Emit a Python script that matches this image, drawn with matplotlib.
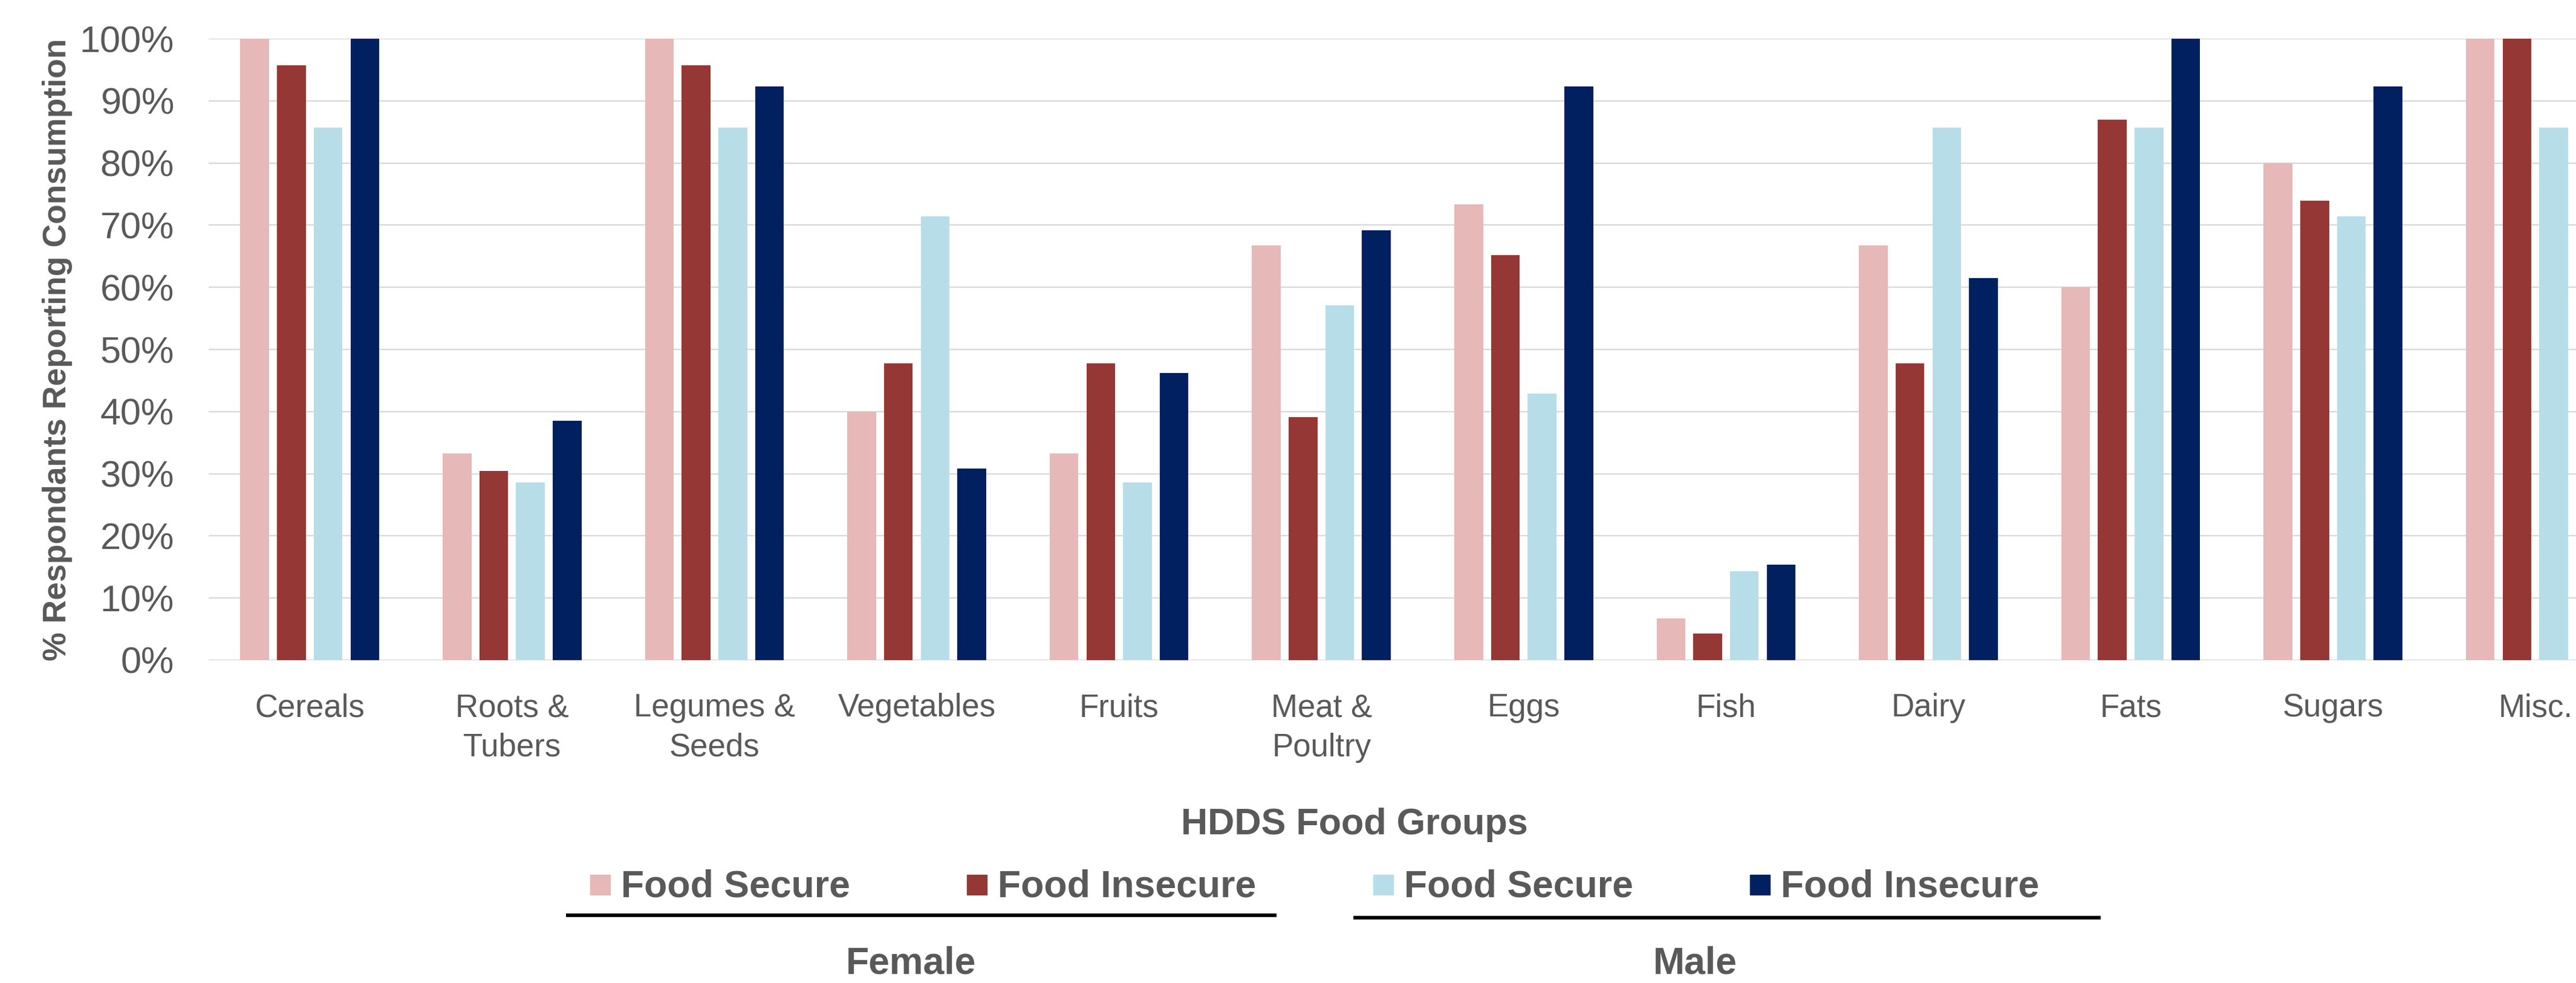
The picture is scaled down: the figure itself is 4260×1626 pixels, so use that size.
import numpy as np
import matplotlib
matplotlib.use('Agg')
import matplotlib.pyplot as plt
from matplotlib.patches import Rectangle
from matplotlib.lines import Line2D

# HDDS food groups and share of respondents (%) reporting consumption
food_groups = ['Cereals', 'Roots &\nTubers', 'Legumes &\nSeeds', 'Vegetables', 'Fruits',
               'Meat &\nPoultry', 'Eggs', 'Fish', 'Dairy', 'Fats', 'Sugars', 'Misc.']

female_secure = [100, 33.3, 100, 40.0, 33.3, 66.7, 73.3, 6.7, 66.7, 60.0, 80.0, 100]
female_insecure = [95.7, 30.4, 95.7, 47.8, 47.8, 39.1, 65.2, 4.3, 47.8, 87.0, 73.9, 100]
male_secure = [85.7, 28.6, 85.7, 71.4, 28.6, 57.1, 42.9, 14.3, 85.7, 85.7, 71.4, 85.7]
male_insecure = [100, 38.5, 92.3, 30.8, 46.2, 69.2, 92.3, 15.4, 61.5, 100, 92.3, None]

series_labels = ['Food Secure', 'Food Insecure', 'Food Secure', 'Food Insecure']
series_colors = ['#E6B8B7', '#953735', '#B7DEE8', '#002060']
sex_labels = ['Female', 'Male']

y_ticks = list(range(0, 101, 10))

TEXT = '#595959'
GRID = '#D9D9D9'
W, H = 4260, 1626

plt.rcParams['font.family'] = ['Liberation Sans', 'DejaVu Sans']


def fx(px):
    return px / W


def fy(py):
    return 1 - py / H


fig = plt.figure(figsize=(W / 100, H / 100), dpi=100, facecolor='white')
# plot area runs a little past the right edge of the figure
ax = fig.add_axes([fx(345), fy(1092), 4015 / W, (1092 - 64) / H])

x = np.arange(len(food_groups))
pitch = 0.1814
bar_w = 0.142
all_series = [female_secure, female_insecure, male_secure, male_insecure]
for i, (vals, color) in enumerate(zip(all_series, series_colors)):
    heights = np.array([np.nan if v is None else v for v in vals], dtype=float)
    ax.bar(x + (i - 1.5) * pitch, heights, width=bar_w, color=color, zorder=2)

ax.set_xlim(-0.5, len(food_groups) - 0.5)
ax.set_ylim(0, 100)
ax.set_yticks(y_ticks)
ax.set_yticklabels([f'{t}%' for t in y_ticks])
ax.set_xticks(x)
ax.set_xticklabels(food_groups, linespacing=1.4)

ax.yaxis.grid(True, color=GRID, linewidth=1.6, zorder=0)
ax.set_axisbelow(True)
for s in ax.spines.values():
    s.set_visible(False)
ax.tick_params(axis='y', length=0, pad=41, labelsize=44, labelcolor=TEXT)
ax.tick_params(axis='x', length=0, pad=39, labelsize=38, labelcolor=TEXT)

fig.text(fx(95), fy(578), '% Respondants Reporting Consumption', rotation=90,
         ha='center', va='center', fontsize=38.5, fontweight='bold', color=TEXT)

fig.text(fx(2240), fy(1380), 'HDDS Food Groups', ha='center', va='baseline',
         fontsize=44, fontweight='bold', color=TEXT)

# legend: one swatch + label per series, grouped under Female / Male
swatch_x = [976, 1599, 2271, 2894]
sw = 33
for sx, label, color in zip(swatch_x, series_labels, series_colors):
    fig.add_artist(Rectangle((fx(sx), fy(1463 + sw / 2)), sw / W, sw / H,
                             transform=fig.transFigure, color=color))
    fig.text(fx(sx + sw + 18), fy(1483), label, ha='left', va='baseline',
             fontsize=45, fontweight='bold', color=TEXT)

group_lines = [(936, 2111, 1514), (2238, 3474, 1518)]
group_label_x = [1507, 2803]
for (x0, x1, ly), lx, sex in zip(group_lines, group_label_x, sex_labels):
    fig.add_artist(Line2D([fx(x0), fx(x1)], [fy(ly), fy(ly)], transform=fig.transFigure,
                          color='black', linewidth=4.3, solid_capstyle='butt'))
    fig.text(fx(lx), fy(1610), sex, ha='center', va='baseline',
             fontsize=45, fontweight='bold', color=TEXT)

fig.savefig('out.png', dpi=100, facecolor='white')
